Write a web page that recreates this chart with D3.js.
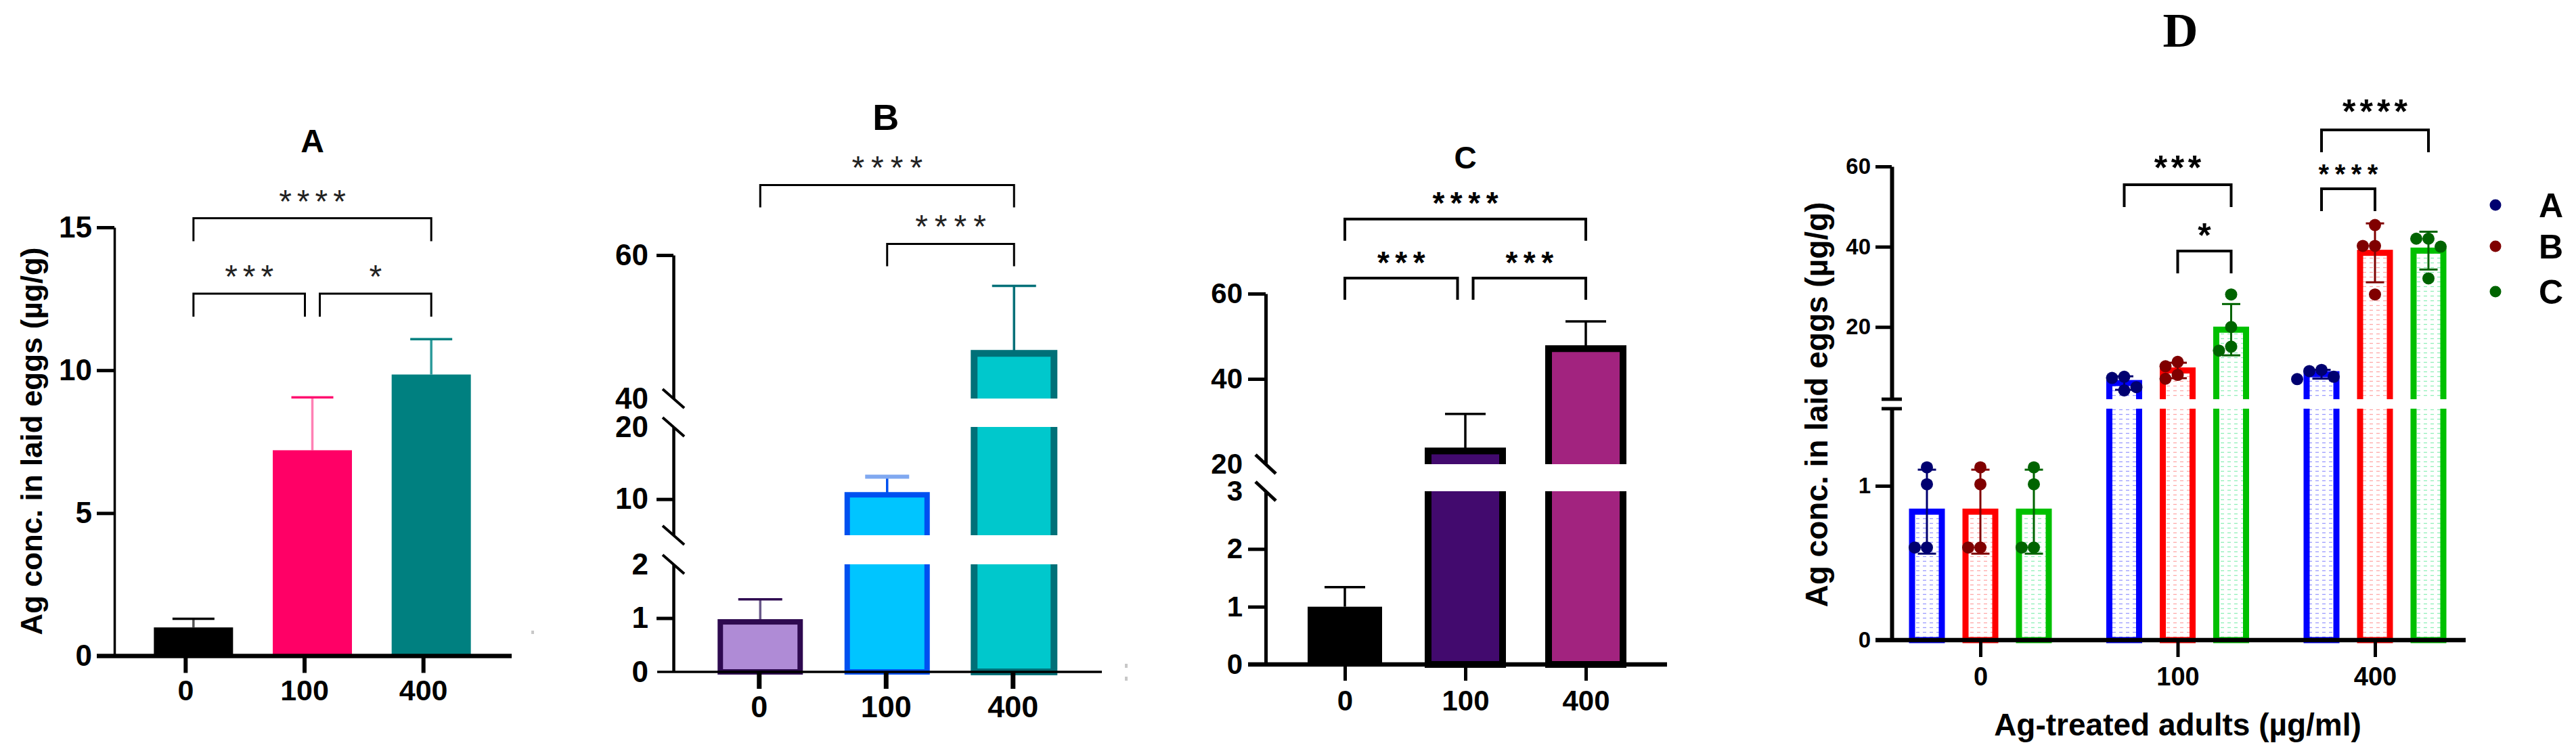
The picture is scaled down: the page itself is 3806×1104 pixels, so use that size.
<!DOCTYPE html>
<html>
<head>
<meta charset="UTF-8">
<script src="https://cdn.jsdelivr.net/npm/d3@7"></script>
<style>
  body { margin: 0; background: #fff; }
  svg { display: block; }
</style>
</head>
<body>
<script>
// ---------------- data ----------------
var doses = ["0", "100", "400"];

// panel A (mean, SD)
var aMean = [1.0, 7.2, 9.85];
var aSD = [0.3, 1.85, 1.24];

// panel B
var bMean = [0.93, 10.6, 46.3];
var bSD = [0.42, 2.5, 9.4];

// panel C
var cMean = [1.0, 23.1, 47.1];
var cSD = [0.34, 8.7, 6.4];

// panel D: four replicates per dose for each sample
var dSeries = ["A", "B", "C"];
var dPtsA = [[1.12, 1.01, 0.6, 0.6], [7.6, 7.3, 5.0, 4.2], [9.3, 9.0, 7.6, 7.0]];
var dPtsB = [[1.12, 1.01, 0.6, 0.6], [11.3, 10.2, 8.05, 7.1], [45.4, 40.2, 40.2, 28.1]];
var dPtsC = [[1.12, 1.01, 0.6, 0.6], [28.1, 20.0, 15.1, 14.1], [42.0, 42.0, 40.0, 32.1]];

// significance brackets: [from, to, label, level]
var aSig = [[0, 2, "****", 1], [0, 1, "***", 0], [1, 2, "*", 0]];
var bSig = [[0, 2, "****", 1], [1, 2, "****", 0]];
var cSig = [[0, 2, "****", 1], [0, 1, "***", 0], [1, 2, "***", 0]];

// tick values
var aTicks = [0, 5, 10, 15];
var bTicks = [0, 1, 2, 10, 20, 40, 60];
var cTicks = [0, 1, 2, 3, 20, 40, 60];
var dTicks = [0, 1, 20, 40, 60];

// ---------------- drawing ----------------
var W = 3806, H = 1104;
var FONT = '"Liberation Sans", Arial, sans-serif';

var svg = d3.select("body").append("svg")
    .attr("width", W).attr("height", H)
    .attr("font-family", FONT);
svg.append("rect").attr("width", W).attr("height", H).attr("fill", "#fff");
var defs = svg.append("defs");

// y scale made of stacked linear pieces (broken axis)
function makeY(segs) {
  var sc = segs.map(function(s) { return d3.scaleLinear().domain(s.d).range(s.r); });
  function f(v) {
    for (var i = segs.length - 1; i > 0; i--) if (v >= segs[i].d[0]) return sc[i](v);
    return sc[0](v);
  }
  f.segs = segs;
  f.sc = sc;
  return f;
}

function yAxis(g, y, o) {
  y.segs.forEach(function(s, i) {
    var vals = o.labels.filter(function(v) { return v >= s.d[0] && v <= s.d[1]; });
    var ga = g.append("g").attr("transform", "translate(" + o.x + ",0)")
        .call(d3.axisLeft(y.sc[i]).tickValues(vals).tickSize(o.len).tickPadding(o.pad)
          .tickSizeOuter(0).tickFormat(d3.format("d")));
    ga.select(".domain").attr("stroke-width", o.w);
    ga.selectAll(".tick line").attr("stroke-width", o.tw)
        .attr("stroke-opacity", function(d) { return o.marks.indexOf(d) >= 0 ? 1 : 0; });
    ga.selectAll(".tick text")
        .attr("font-size", o.fs).attr("font-weight", "bold")
        .attr("font-family", FONT).attr("fill", "#000");
  });
}

function xAxis(g, x, o) {
  g.append("line")
      .attr("x1", o.x0).attr("x2", o.x1).attr("y1", o.y).attr("y2", o.y)
      .attr("stroke", "#000").attr("stroke-width", o.w);
  var ga = g.append("g").attr("transform", "translate(0," + o.y + ")")
      .call(d3.axisBottom(x).tickSize(o.len).tickPadding(o.pad).tickSizeOuter(0));
  ga.select(".domain").remove();
  ga.selectAll(".tick line").attr("stroke-width", o.tw);
  ga.selectAll(".tick text")
      .attr("font-size", o.fs).attr("font-weight", "bold")
      .attr("font-family", FONT).attr("fill", "#000");
}

function slashBreaks(g, y, x, dx, dy, w) {
  y.segs.forEach(function(s, i) {
    var ends = [];
    if (i > 0) ends.push(s.r[0]);
    if (i < y.segs.length - 1) ends.push(s.r[1]);
    ends.forEach(function(e) {
      g.append("line")
          .attr("x1", x - dx).attr("y1", e - dy).attr("x2", x + dx).attr("y2", e + dy)
          .attr("stroke", "#000").attr("stroke-width", w);
    });
  });
}

// bars, one clipped piece per axis segment
function bars(g, id, y, items, bw) {
  y.segs.forEach(function(s, i) {
    var last = i === y.segs.length - 1;
    var cTop = last ? 0 : s.r[1];
    var cBot = i === 0 ? s.r[0] + 12 : s.r[0];
    defs.append("clipPath").attr("id", id + i).append("rect")
        .attr("x", 0).attr("y", cTop).attr("width", W).attr("height", cBot - cTop);
    var top = function(d) { return d.v <= s.d[1] ? y.sc[i](d.v) : s.r[1] - 60; };
    var bot = i === 0 ? s.r[0] : s.r[0] + 60;
    g.append("g").attr("clip-path", "url(#" + id + i + ")")
      .selectAll("rect")
      .data(items.filter(function(d) { return d.v >= s.d[0]; }))
      .join("rect")
        .attr("x", function(d) { return d.cx - bw / 2; })
        .attr("width", bw)
        .attr("y", top)
        .attr("height", function(d) { return bot - top(d); })
        .attr("fill", function(d) { return d.fill; })
        .attr("stroke", function(d) { return d.stroke || "none"; })
        .attr("stroke-width", function(d) { return d.sw || 0; });
  });
}

function errBars(g, y, items, o) {
  items.forEach(function(d) {
    var lo = o.both ? d.m - d.sd : d.m, hi = d.m + d.sd;
    g.append("line").attr("x1", d.cx).attr("x2", d.cx)
        .attr("y1", y(lo)).attr("y2", y(hi))
        .attr("stroke", d.stem).attr("stroke-width", o.w);
    var caps = o.both ? [lo, hi] : [hi];
    caps.forEach(function(c) {
      g.append("line").attr("x1", d.cx - o.cap / 2).attr("x2", d.cx + o.cap / 2)
          .attr("y1", y(c)).attr("y2", y(c))
          .attr("stroke", d.cap).attr("stroke-width", d.capW || o.w);
    });
  });
}

function stars(g, x, yc, txt, o) {
  g.append("text")
      .attr("x", x + o.ls / 2).attr("y", yc + 0.57 * o.fs)
      .attr("text-anchor", "middle")
      .attr("font-size", o.fs).attr("font-weight", o.bold ? "bold" : "normal")
      .attr("letter-spacing", o.ls).attr("fill", o.color || "#000")
      .text(txt);
}

function brackets(g, list, cx, levels, o) {
  list.forEach(function(b) {
    var x1 = cx(b[0]), x2 = cx(b[1]), yy = levels[b[3]];
    list.forEach(function(c) {
      if (c !== b && c[3] === b[3]) {
        if (c[0] === b[1]) x2 -= o.gap;
        if (c[1] === b[0]) x1 += o.gap;
      }
    });
    g.append("path")
        .attr("d", "M" + x1 + "," + (yy + o.drop) + "V" + yy + "H" + x2 + "V" + (yy + o.drop))
        .attr("fill", "none").attr("stroke", "#000").attr("stroke-width", o.w);
    stars(g, (x1 + x2) / 2, yy - o.lift, b[2], o);
  });
}

function title(g, x, y, txt, fs, fam) {
  g.append("text").attr("x", x).attr("y", y).attr("text-anchor", "middle")
      .attr("font-size", fs).attr("font-weight", "bold")
      .attr("font-family", fam || FONT).text(txt);
}

function yTitle(g, x, y, txt, fs) {
  g.append("text")
      .attr("transform", "translate(" + x + "," + y + ") rotate(-90)")
      .attr("text-anchor", "middle").attr("dy", "0.35em")
      .attr("font-size", fs).attr("font-weight", "bold").text(txt);
}

// ---------- panel A ----------
(function() {
  var g = svg.append("g");
  var y = makeY([{d: [0, 15], r: [969.5, 336]}]);
  var x = d3.scalePoint().domain(doses).range([186, 713]).padding(0.5);
  var off = 12;
  var cx = function(i) { return x(doses[i]) + off; };
  var fills = ["#000000", "#ff0066", "#008080"];

  errBars(g, y, aMean.map(function(m, i) {
    return {cx: cx(i), m: m, sd: aSD[i],
            stem: ["#555555", "#ff80b4", "#2a9a9a"][i],
            cap: ["#000000", "#ff1070", "#008080"][i]};
  }), {w: 3.5, cap: 62});
  bars(g, "clipA", y, aMean.map(function(m, i) {
    return {v: m, cx: cx(i), fill: fills[i]};
  }), 117);

  yAxis(g, y, {x: 169, labels: aTicks, marks: [5, 10, 15], len: 26, pad: 7, w: 3.5, tw: 5, fs: 44});
  xAxis(g, x, {x0: 143, x1: 756, y: 969.5, w: 6.4, len: 25, tw: 6, pad: 10, fs: 43});
  yTitle(g, 47, 652, "Ag conc. in laid eggs (\u00b5g/g)", 44);
  title(g, cx(1), 225, "A", 48);
  brackets(g, aSig, cx, [434, 322.5],
    {gap: 11, drop: 34, w: 3, lift: 36, fs: 48, ls: 8, bold: false, color: "#222"});
  // stray scan speck right of the panel
  g.append("rect").attr("x", 785).attr("y", 932).attr("width", 4).attr("height", 5).attr("fill", "#c8c8c8");
})();

// ---------- panel B ----------
(function() {
  var g = svg.append("g");
  var y = makeY([{d: [0, 2], r: [993, 834]}, {d: [5, 20], r: [791, 631]}, {d: [40, 60], r: [589, 377]}]);
  var x = d3.scalePoint().domain(doses).range([1027.5, 1590]).padding(0.5);
  var cx = function(i) { return x(doses[i]) + 2; };
  var fills = ["#af8bd6", "#00c5ff", "#00c8cc"];
  var strokes = ["#2e0a50", "#0050f0", "#007078"];

  errBars(g, y, bMean.map(function(m, i) {
    return {cx: cx(i), m: m, sd: bSD[i],
            stem: ["#6a5a8a", "#0050f0", "#007078"][i],
            cap: ["#2e0a50", "#80a8f0", "#007078"][i],
            capW: [3.5, 6, 3.5][i]};
  }), {w: 3.5, cap: 65});
  bars(g, "clipB", y, bMean.map(function(m, i) {
    return {v: m, cx: cx(i), fill: fills[i], stroke: strokes[i], sw: i === 2 ? 10 : 8};
  }), 118);

  yAxis(g, y, {x: 995, labels: bTicks, marks: [1, 10, 60], len: 25, pad: 12, w: 4.5, tw: 5, fs: 44});
  slashBreaks(g, y, 995, 16, 14, 4);
  xAxis(g, x, {x0: 971, x1: 1628, y: 993, w: 3.5, len: 25, tw: 7, pad: 10, fs: 45});
  title(g, x("100"), 192, "B", 54);
  brackets(g, bSig, cx, [360.5, 273.5],
    {gap: 0, drop: 33, w: 3, lift: 37, fs: 48, ls: 10, bold: false, color: "#222"});
  g.selectAll(null).data([981, 1000]).join("rect")
      .attr("x", 1662).attr("y", function(d) { return d; })
      .attr("width", 4).attr("height", 6).attr("fill", "#c8c8c8");
})();

// ---------- panel C ----------
(function() {
  var g = svg.append("g");
  var y = makeY([{d: [0, 3], r: [982, 726]}, {d: [20, 60], r: [686, 434]}]);
  var x = d3.scalePoint().domain(doses).range([1898, 2432]).padding(0.5);
  var cx = function(i) { return x(doses[i]); };
  var fills = ["#000000", "#420a6e", "#a2237f"];

  errBars(g, y, cMean.map(function(m, i) {
    return {cx: cx(i), m: m, sd: cSD[i], stem: "#000", cap: "#000"};
  }), {w: 3.5, cap: 60});
  bars(g, "clipC", y, cMean.map(function(m, i) {
    return {v: m, cx: cx(i), fill: fills[i], stroke: i ? "#000" : null, sw: i ? 10 : 0};
  }), 110);

  yAxis(g, y, {x: 1870, labels: cTicks, marks: [1, 2, 40, 60], len: 26, pad: 8, w: 5, tw: 5, fs: 42});
  slashBreaks(g, y, 1870, 15, 14, 5);
  xAxis(g, x, {x0: 1844, x1: 2463, y: 982, w: 6.4, len: 24, tw: 5, pad: 14, fs: 42});
  title(g, x("100"), 249, "C", 46);
  brackets(g, cSig, cx, [411, 323.7],
    {gap: 11.5, drop: 32, w: 4, lift: 33.5, fs: 46, ls: 8.5, bold: true});
})();

// ---------- panel D ----------
(function() {
  var g = svg.append("g");
  var y = makeY([{d: [0, 1.5], r: [946, 604]}, {d: [2, 60], r: [590, 246]}]);
  var x = d3.scalePoint().domain(doses).range([2780.25, 3654.75]).padding(0.5);
  var xs = d3.scalePoint().domain(dSeries).range([-79, 79]);
  var pts = [dPtsA, dPtsB, dPtsC];
  var lineCol = ["#0000ff", "#ff0000", "#00c000"];
  var dotCol = ["#000070", "#800000", "#006400"];
  var dashCol = ["#9a9aff", "#ffa8a8", "#8ff0b8"];

  // light dashed fill inside the outlined bars
  dSeries.forEach(function(s, k) {
    var p = defs.append("pattern").attr("id", "pat" + s)
        .attr("patternUnits", "userSpaceOnUse").attr("width", 10).attr("height", 7);
    p.append("rect").attr("width", 10).attr("height", 7).attr("fill", "#fff");
    p.append("line").attr("x1", 1).attr("x2", 6).attr("y1", 3.5).attr("y2", 3.5)
        .attr("stroke", dashCol[k]).attr("stroke-width", 1.3);
  });

  var items = [];
  doses.forEach(function(dose, i) {
    dSeries.forEach(function(s, k) {
      var v = pts[k][i];
      items.push({dose: dose, k: k, s: s, vals: v,
                  cx: x(dose) + xs(s), m: d3.mean(v), sd: d3.deviation(v)});
    });
  });

  bars(g, "clipD", y, items.map(function(d) {
    return {v: d.m, cx: d.cx, fill: "url(#pat" + d.s + ")", stroke: lineCol[d.k], sw: 9};
  }), 44);

  // replicate dots, spread sideways when they overlap
  var r = 9, step = 18;
  items.forEach(function(d) {
    var placed = [];
    d.vals.slice().sort(d3.descending).forEach(function(v) {
      var py = y(v), offs = [0, -step, step, -2 * step, 2 * step], px = 0;
      for (var t = 0; t < offs.length; t++) {
        var ok = placed.every(function(p) {
          return Math.hypot(p[0] - offs[t], p[1] - py) >= 2 * r;
        });
        if (ok) { px = offs[t]; break; }
      }
      placed.push([px, py]);
    });
    g.selectAll(null).data(placed).join("circle")
        .attr("cx", function(p) { return d.cx + p[0]; })
        .attr("cy", function(p) { return p[1]; })
        .attr("r", r).attr("fill", dotCol[d.k]);
  });

  errBars(g, y, items.map(function(d) {
    return {cx: d.cx, m: d.m, sd: d.sd, stem: dotCol[d.k], cap: dotCol[d.k]};
  }), {w: 3, cap: 27, both: true});

  yAxis(g, y, {x: 2795, labels: dTicks, marks: [1, 20, 40, 60], len: 24, pad: 7, w: 6, tw: 5, fs: 33});
  [590, 604].forEach(function(e) {
    g.append("line").attr("x1", 2780).attr("x2", 2810).attr("y1", e).attr("y2", e)
        .attr("stroke", "#000").attr("stroke-width", 5);
  });
  xAxis(g, x, {x0: 2771, x1: 3643, y: 946, w: 6.4, len: 25, tw: 5, pad: 15, fs: 38});
  yTitle(g, 2684, 598, "Ag conc. in laid eggs (\u00b5g/g)", 46);
  g.append("text").attr("x", x("100")).attr("y", 1087).attr("text-anchor", "middle")
      .attr("font-size", 46).attr("font-weight", "bold")
      .text("Ag-treated adults (\u00b5g/ml)");
  title(g, x("100") + 4, 69, "D", 72, '"Liberation Serif", "Times New Roman", serif');

  // brackets between samples inside a dose group
  var cxD = function(p) { return x(p[0]) + xs(p[1]); };
  var dSig = [[["100", "A"], ["100", "C"], "***", 273, 37, 50, 5.5],
              [["100", "B"], ["100", "C"], "*", 371, 35, 50, 5.5],
              [["400", "A"], ["400", "B"], "****", 279, 31, 40, 8.5],
              [["400", "A"], ["400", "C"], "****", 192, 39, 50, 6]];
  dSig.forEach(function(b) {
    var x1 = cxD(b[0]), x2 = cxD(b[1]), yy = b[3];
    g.append("path")
        .attr("d", "M" + x1 + "," + (yy + 33) + "V" + yy + "H" + x2 + "V" + (yy + 33))
        .attr("fill", "none").attr("stroke", "#000").attr("stroke-width", 4);
    stars(g, (x1 + x2) / 2, yy - b[4], b[2], {fs: b[5], ls: b[6], bold: true});
  });

  // legend
  var lg = g.append("g");
  dSeries.forEach(function(s, k) {
    var ly = [303, 364, 431][k];
    lg.append("circle").attr("cx", 3687).attr("cy", ly).attr("r", 8.5).attr("fill", dotCol[k]);
    lg.append("text").attr("x", 3769).attr("y", ly).attr("dy", "0.36em")
        .attr("text-anchor", "middle").attr("font-size", 50).attr("font-weight", "bold").text(s);
  });
})();
</script>
</body>
</html>
